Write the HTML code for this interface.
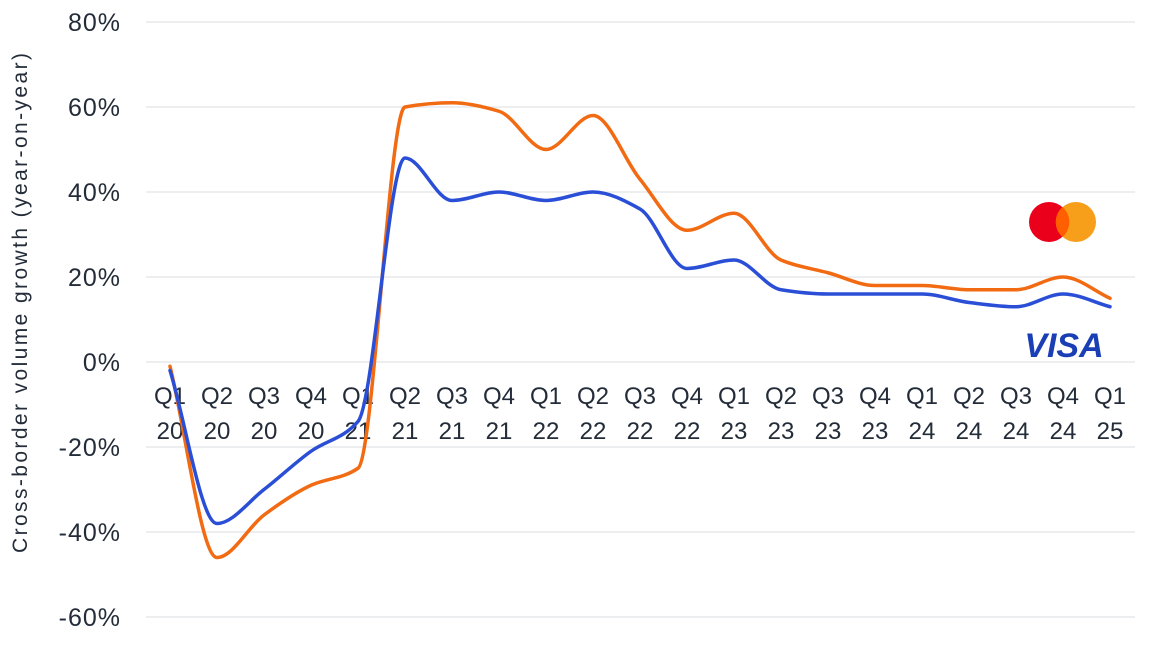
<!DOCTYPE html>
<html><head><meta charset="utf-8"><style>
body{margin:0;background:#fff;width:1150px;height:641px;overflow:hidden;font-family:"Liberation Sans",sans-serif}
</style></head><body>
<svg id="s" width="1150" height="641" xmlns="http://www.w3.org/2000/svg">
<g stroke="#e6e8ea" stroke-width="1.5">
<line x1="146" x2="1135" y1="22" y2="22"/><line x1="146" x2="1135" y1="107" y2="107"/>
<line x1="146" x2="1135" y1="192" y2="192"/><line x1="146" x2="1135" y1="277" y2="277"/>
<line x1="146" x2="1135" y1="362" y2="362"/><line x1="146" x2="1135" y1="447" y2="447"/>
<line x1="146" x2="1135" y1="532" y2="532"/><line x1="146" x2="1135" y1="617" y2="617"/>
</g>
<g font-size="25" fill="#232c38" text-anchor="end" letter-spacing="1">
<text x="121" y="31">80%</text><text x="121" y="116">60%</text><text x="121" y="201">40%</text>
<text x="121" y="286">20%</text><text x="121" y="371">0%</text><text x="121" y="456">-20%</text>
<text x="121" y="541">-40%</text><text x="121" y="626">-60%</text>
</g>
<text transform="translate(27,303) rotate(-90)" font-size="21" fill="#232c38" text-anchor="middle" textLength="500">Cross-border volume growth (year-on-year)</text>
<g id="xl" font-size="24" fill="#232c38" text-anchor="middle"></g>
<path id="po" fill="none" stroke="#f26a12" stroke-width="3.5" stroke-linecap="round"/>
<path id="pb" fill="none" stroke="#2a4fd6" stroke-width="3.5" stroke-linecap="round"/>
<circle cx="1049" cy="222" r="20" fill="#eb001b"/>
<circle cx="1076" cy="222" r="20" fill="#f79e1b"/>
<path d="M1062.5 207 A20 20 0 0 1 1062.5 237 A20 20 0 0 1 1062.5 207Z" fill="#ff5f00"/>
<text x="1064" y="357" font-size="34" font-weight="bold" font-style="italic" fill="#1a3fb5" text-anchor="middle">VISA</text>
</svg>
<script>
var q=["Q1","Q2","Q3","Q4"],xl=document.getElementById("xl"),h="";
for(var i=0;i<21;i++){var x=170+i*47;h+='<text x="'+x+'" y="404">'+q[i%4]+'</text><text x="'+x+'" y="439">'+(20+Math.floor(i/4))+'</text>';}
xl.innerHTML=h;
var o=[-1,-46,-36,-29,-25,60,61,59,50,58,43,31,35,24,21,18,18,17,17,20,15];
var b=[-2,-38,-30,-21,-14,48,38,40,38,40,36,22,24,17,16,16,16,14,13,16,13];
function path(d){var n=d.length,x=[],y=[];for(var i=0;i<n;i++){x.push(170+i*47);y.push(362-d[i]*4.25);}
var dl=[],m=[];for(var i=0;i<n-1;i++)dl.push((y[i+1]-y[i])/47);
m[0]=dl[0];m[n-1]=dl[n-2];
for(var i=1;i<n-1;i++){if(dl[i-1]*dl[i]<=0)m[i]=0;else m[i]=2/(1/dl[i-1]+1/dl[i]);}
var s="M"+x[0]+","+y[0],hh=47/3;
for(var i=0;i<n-1;i++)s+=" C"+(x[i]+hh)+","+(y[i]+m[i]*hh)+" "+(x[i+1]-hh)+","+(y[i+1]-m[i+1]*hh)+" "+x[i+1]+","+y[i+1];
return s;}
document.getElementById("po").setAttribute("d",path(o));
document.getElementById("pb").setAttribute("d",path(b));
</script>
</body></html>
